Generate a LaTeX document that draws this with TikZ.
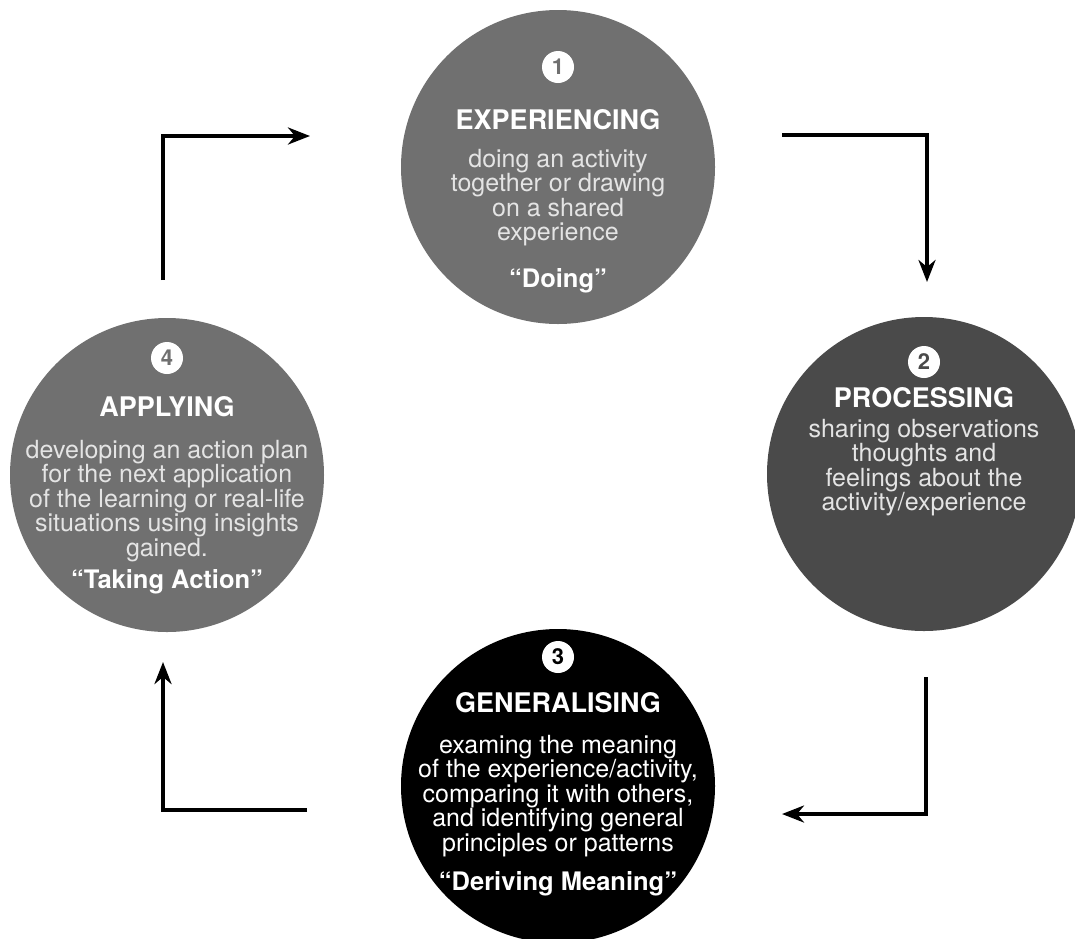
\documentclass[tikz,border=0pt]{standalone}
\usepackage{fontspec}
\setmainfont{TeX Gyre Heros}
\usetikzlibrary{arrows.meta, positioning}

\definecolor{stagegray}{RGB}{112,112,112}
\definecolor{stagedark}{RGB}{74,74,74}
\definecolor{blurbgray}{RGB}{228,228,228}

\begin{document}
\begin{tikzpicture}[x=1pt, y=-1pt,
  stage/.style={circle, minimum size=314pt, inner sep=0pt},
  badge/.style={circle, fill=white, minimum size=32pt, inner sep=0pt,
    font=\fontsize{22}{22}\selectfont\bfseries},
  title/.style={anchor=base, inner sep=0pt, text=white,
    font=\fontsize{27}{27}\selectfont\bfseries},
  blurb/.style={anchor=north, align=center, inner sep=0pt, text=blurbgray,
    font=\fontsize{25}{24.5}\selectfont},
  motto/.style={anchor=base, inner sep=0pt, text=white,
    font=\fontsize{25.5}{25.5}\selectfont\bfseries},
  flow/.style={line width=4pt, -{Stealth[length=22pt, width=17pt, inset=7pt]}}]

  \useasboundingbox (0,0) rectangle (1075,938);
  \clip (0,0) rectangle (1075,938);

  % the four stages
  \node[stage, fill=stagegray] (exp) at (558,167) {};
  \node[stage, fill=stagedark] (proc) at (924,474) {};
  \node[stage, fill=black] (gen) at (558,786) {};
  \node[stage, fill=stagegray] (app) at (167,475) {};

  % 1
  \node[badge, text=stagegray, below=41pt of exp.north] (exp-num) {1};
  \node[title] (exp-title) at (558,129) {EXPERIENCING};
  \node[blurb] (exp-text) at (558,149) {doing an activity\\together or drawing\\on a shared\\experience};
  \node[motto] (exp-motto) at (558,287) {“Doing”};

  % 2
  \node[badge, text=stagedark, below=29pt of proc.north] (proc-num) {2};
  \node[title] (proc-title) at (924,407) {PROCESSING};
  \node[blurb] (proc-text) at (924,419) {sharing observations\\thoughts and\\feelings about the\\activity/experience};

  % 3
  \node[badge, text=black, below=12pt of gen.north] (gen-num) {3};
  \node[title] (gen-title) at (558,712) {GENERALISING};
  \node[blurb, text=white] (gen-text) at (558,735) {examing the meaning\\of the experience/activity,\\comparing it with others,\\and identifying general\\principles or patterns};
  \node[motto] (gen-motto) at (558,890) {“Deriving Meaning”};

  % 4
  \node[badge, text=stagegray, below=24pt of app.north] (app-num) {4};
  \node[title] (app-title) at (167,416) {APPLYING};
  \node[blurb] (app-text) at (167,440) {developing an action plan\\for the next application\\of the learning or real-life\\situations using insights\\gained.};
  \node[motto] (app-motto) at (167,588) {“Taking Action”};

  % cycle arrows
  \coordinate (exp-out) at (782,135);
  \coordinate (proc-in) at (927,282);
  \coordinate (proc-out) at (926,677);
  \coordinate (gen-in) at (782,814);
  \coordinate (gen-out) at (307,810);
  \coordinate (app-in) at (163,662);
  \coordinate (app-out) at (163,280);
  \coordinate (exp-in) at (310,136);

  \draw[flow] (exp-out) -| (proc-in);
  \draw[flow] (proc-out) |- (gen-in);
  \draw[flow] (gen-out) -| (app-in);
  \draw[flow] (app-out) |- (exp-in);
\end{tikzpicture}
\end{document}
